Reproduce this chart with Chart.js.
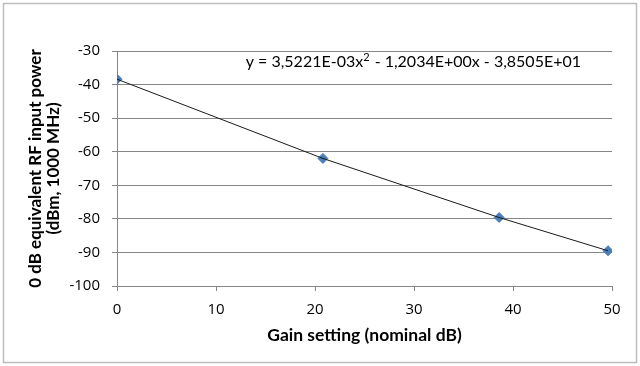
<!DOCTYPE html>
<html>
<head>
<meta charset="utf-8">
<title>Gain setting vs 0 dB equivalent RF input power</title>
<script src="https://cdn.jsdelivr.net/npm/chart.js@4"></script>
<style>
    html, body { margin: 0; padding: 0; background: #fff; }
    canvas { display: block; }
</style>
</head>
<body>
<canvas id="gainChart" width="640" height="366"></canvas>
<script>
/* measured points */
const gainSetting = [0, 20.8, 38.6, 49.6];
const inputPower = [-38.4, -62.0, -79.6, -89.5];

const xTickValues = [0, 10, 20, 30, 40, 50];
const yTickValues = [-100, -90, -80, -70, -60, -50, -40, -30];

const xTitle = 'Gain setting (nominal dB)';
const yTitle = ['0 dB equivalent RF input power', '(dBm, 1000 MHz)'];
// equation split round the superscript "2"
const equationParts = ['y = 3,5221E-03x', '2', ' - 1,2034E+00x - 3,8505E+01'];

const TEXT_FONT = 'Lato';
const TICK_FONT = 'Open Sans';

function toPoints(xs, ys) {
    return xs.map((x, i) => ({ x: x, y: ys[i] }));
}

// white background + grey frame round the whole chart
const frame = {
    id: 'frame',
    beforeDraw(chart) {
        const ctx = chart.ctx;
        ctx.save();
        ctx.fillStyle = '#fff';
        ctx.fillRect(0, 0, chart.width, chart.height);
        ctx.strokeStyle = '#bdbdbd';
        ctx.lineWidth = 1.5;
        ctx.strokeRect(3.5, 3.5, chart.width - 7, chart.height - 7);
        ctx.restore();
    }
};

// trendline equation label
const equation = {
    id: 'equation',
    afterDraw(chart) {
        const ctx = chart.ctx;
        let x = chart.scales.x.getPixelForValue(13);
        const y = chart.scales.y.getPixelForValue(-33.3);
        ctx.save();
        ctx.fillStyle = '#000';
        ctx.textBaseline = 'middle';
        equationParts.forEach((part, i) => {
            const sup = i === 1;
            ctx.font = (sup ? '11px ' : '16px ') + TEXT_FONT;
            ctx.fillText(part, x, sup ? y - 5 : y);
            x += ctx.measureText(part).width + (sup ? 1 : 0);
        });
        ctx.restore();
    }
};

new Chart(document.getElementById('gainChart'), {
    type: 'scatter',
    data: {
        datasets: [{
            label: 'Trendline',
            data: toPoints(gainSetting, inputPower),
            showLine: true,
            borderColor: '#1a1a1a',
            borderWidth: 1,
            pointRadius: 0,
            order: 1
        }, {
            label: 'Measured',
            data: toPoints(gainSetting, inputPower),
            pointStyle: 'rectRot',
            pointRadius: 5,
            backgroundColor: '#4a7ebb',
            borderColor: '#4a7ebb',
            borderWidth: 1,
            order: 2
        }]
    },
    options: {
        responsive: false,
        animation: false,
        layout: { padding: { left: 3, right: 28, top: 51, bottom: 5 } },
        plugins: {
            legend: { display: false },
            tooltip: { enabled: false }
        },
        scales: {
            x: {
                type: 'linear',
                min: 0,
                max: 50,
                afterBuildTicks: scale => { scale.ticks = xTickValues.map(v => ({ value: v })); },
                afterFit: scale => { scale.height = 75; },
                ticks: { color: '#000', padding: 10, font: { family: TICK_FONT, size: 15 } },
                grid: { drawOnChartArea: false, color: '#868686', tickLength: 5 },
                border: { color: '#868686' },
                title: {
                    display: true,
                    text: xTitle,
                    color: '#000',
                    font: { family: TEXT_FONT, size: 17.5, weight: 'bold' },
                    padding: { top: 0, bottom: 15 }
                }
            },
            y: {
                min: -100,
                max: -30,
                afterBuildTicks: scale => { scale.ticks = yTickValues.map(v => ({ value: v })); },
                afterFit: scale => { scale.width = 114; },
                ticks: { color: '#000', padding: 12, font: { family: TICK_FONT, size: 15 } },
                grid: { color: '#868686', tickLength: 5 },
                border: { color: '#868686' },
                title: {
                    display: true,
                    text: yTitle,
                    color: '#000',
                    font: { family: TEXT_FONT, size: 17, weight: 'bold', lineHeight: 1.08 },
                    padding: { top: 23, bottom: 0 }
                }
            }
        }
    },
    plugins: [frame, equation]
});
</script>
</body>
</html>
